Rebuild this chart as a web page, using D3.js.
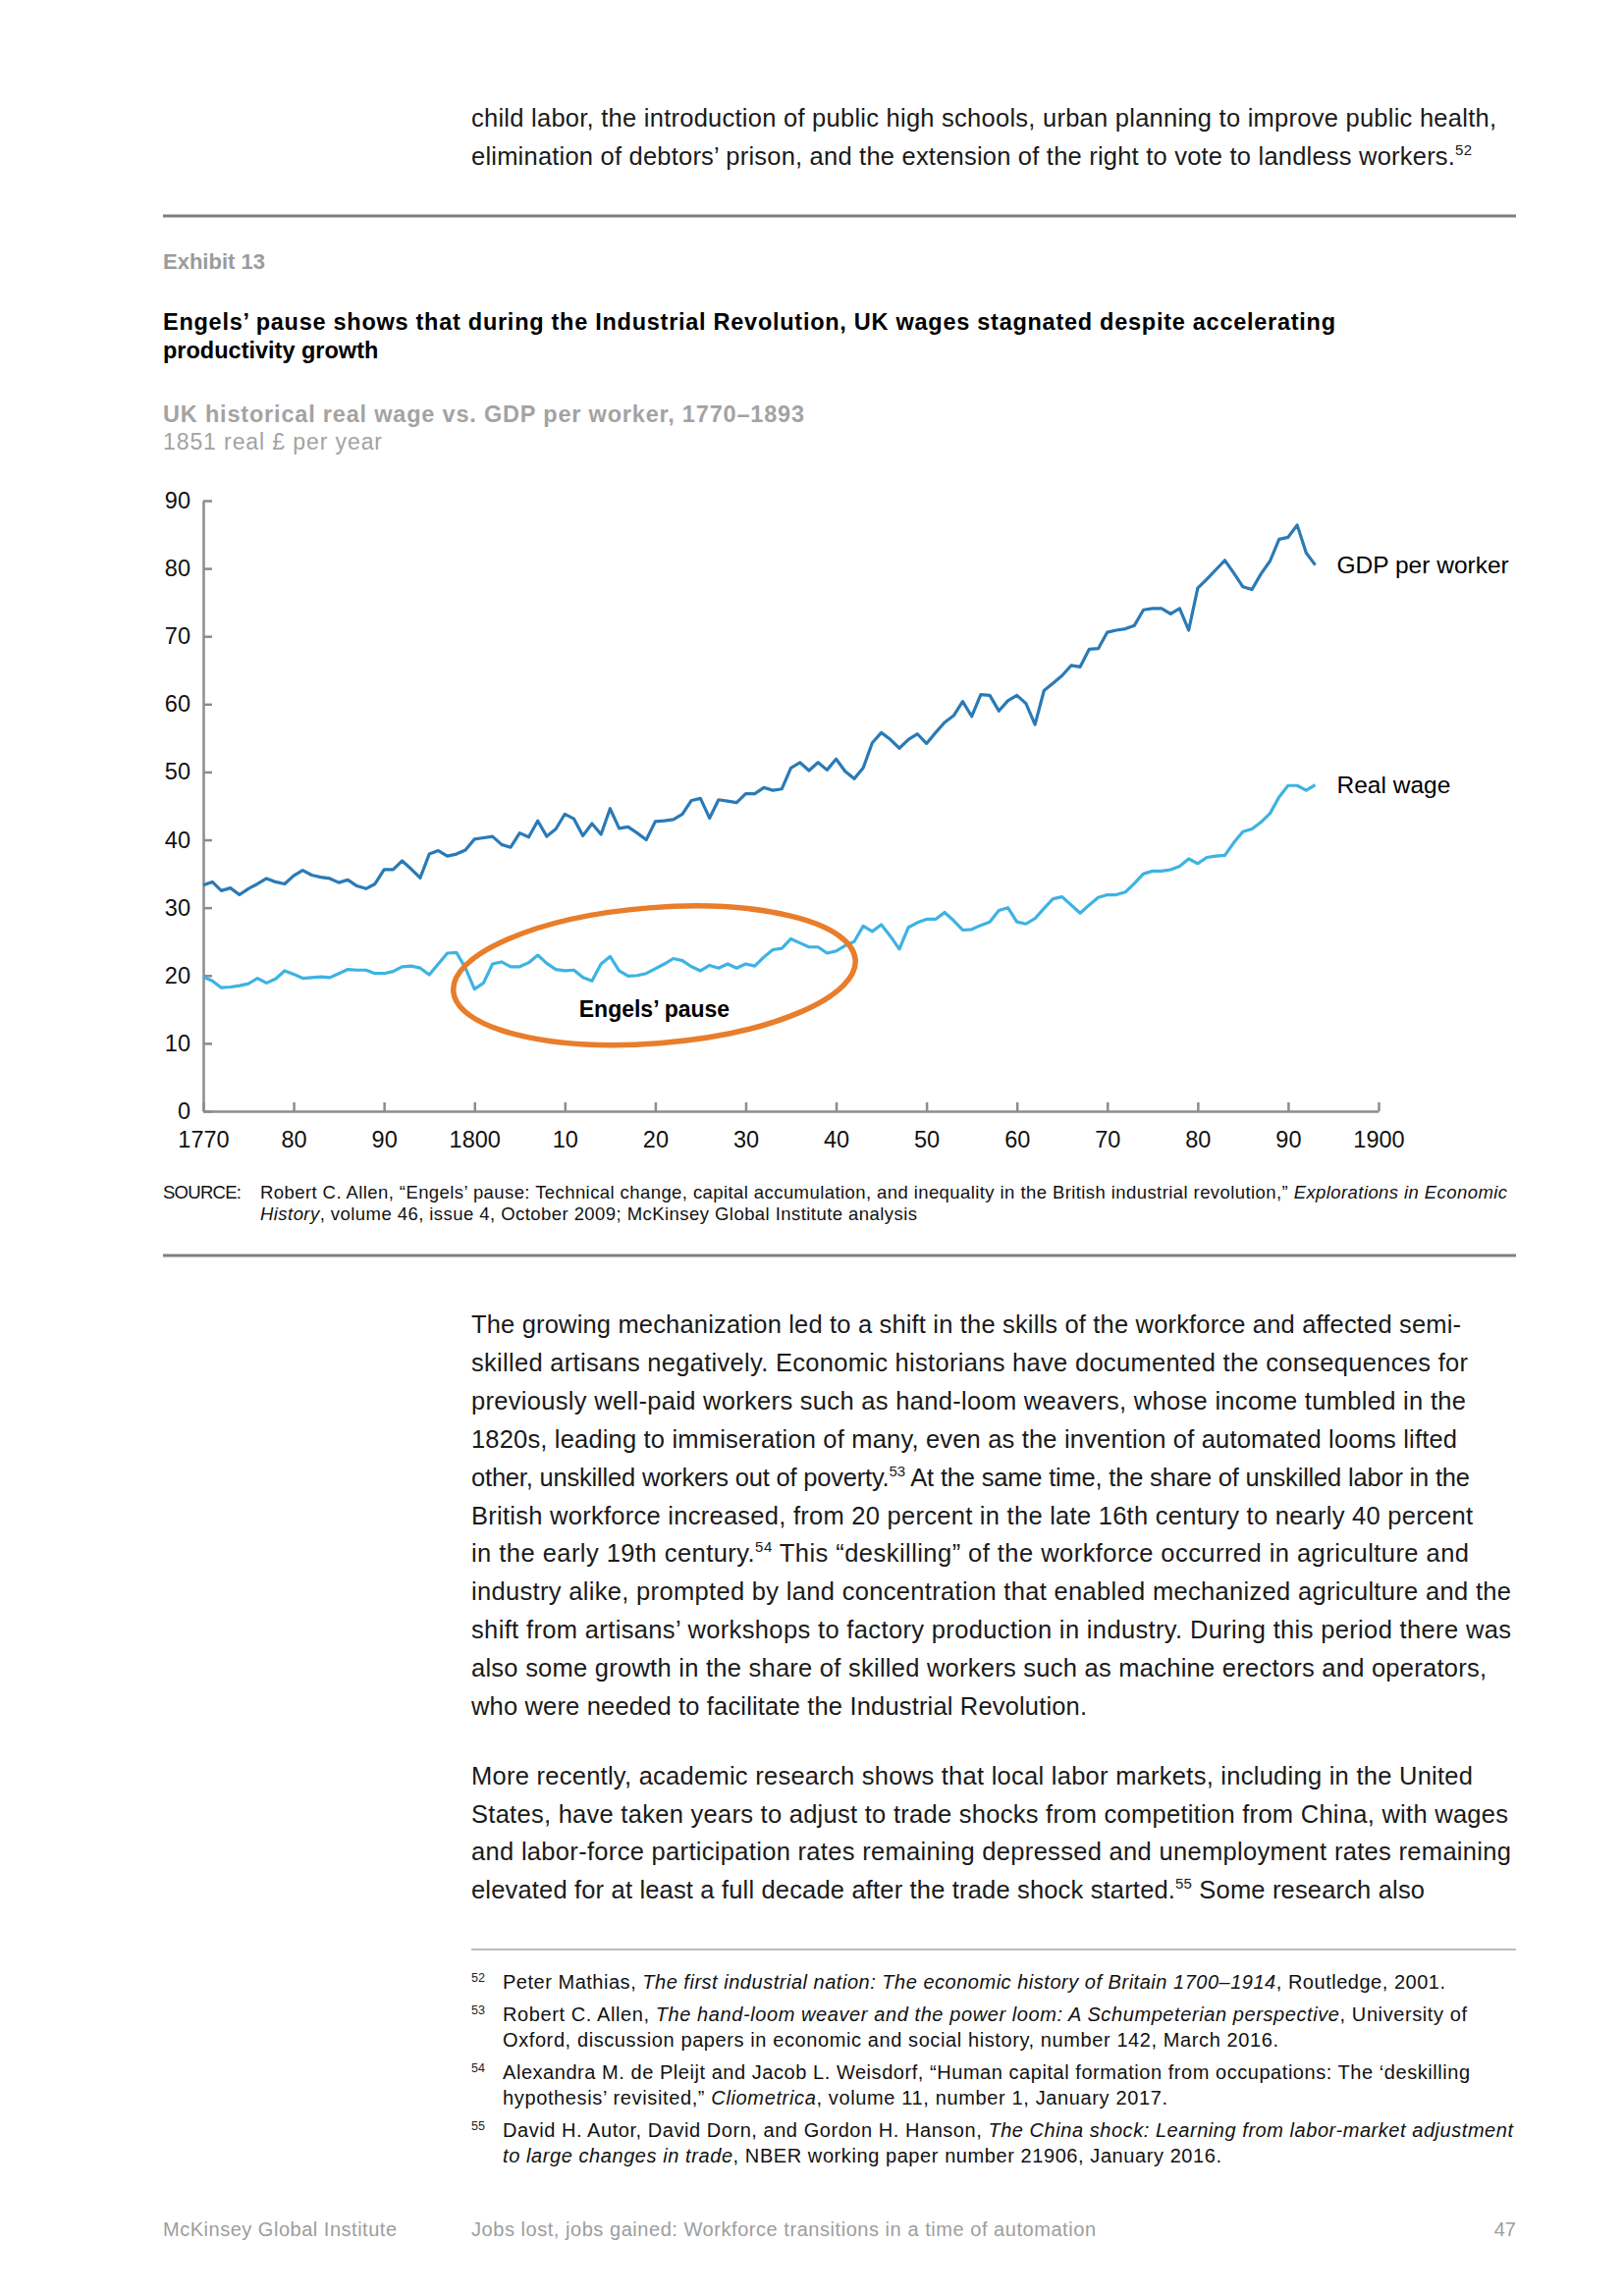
<!DOCTYPE html>
<html>
<head>
<meta charset="utf-8">
<script src="https://cdn.jsdelivr.net/npm/d3@7"></script>
<style>
  html, body { margin: 0; padding: 0; background: #fff; }
  svg { display: block; }
  text { font-family: "Liberation Sans", Arial, Helvetica, sans-serif; }
</style>
</head>
<body>
<script>
// ---------------- DATA ----------------
const firstYear = 1770;
const lastYear = 1893;
const years = d3.range(firstYear, lastYear + 1);

const gdpPerWorker = [
  33.3, 33.8, 32.5, 32.9, 31.9, 32.8, 33.5, 34.3, 33.8, 33.5, // 1770-1779
  34.7, 35.5, 34.8, 34.5, 34.3, 33.7, 34.1, 33.2, 32.8, 33.5, // 1780-1789
  35.6, 35.6, 36.9, 35.7, 34.4, 37.9, 38.4, 37.6, 37.9, 38.5, // 1790-1799
  40.1, 40.3, 40.5, 39.3, 38.9, 41.0, 40.4, 42.8, 40.5, 41.6, // 1800-1809
  43.8, 43.1, 40.6, 42.4, 40.8, 44.6, 41.7, 41.9, 41.0, 40.0, // 1810-1819
  42.7, 42.8, 43.0, 43.8, 45.8, 46.1, 43.2, 45.9, 45.7, 45.5, // 1820-1829
  46.8, 46.8, 47.7, 47.3, 47.5, 50.6, 51.4, 50.2, 51.4, 50.3, // 1830-1839
  51.9, 50.1, 49.0, 50.6, 54.3, 55.8, 54.8, 53.5, 54.8, 55.6, // 1840-1849
  54.2, 55.8, 57.3, 58.3, 60.4, 58.2, 61.4, 61.3, 59.0, 60.5, // 1850-1859
  61.3, 60.1, 57.0, 62.0, 63.1, 64.2, 65.7, 65.5, 68.1, 68.2, // 1860-1869
  70.6, 70.9, 71.1, 71.6, 73.9, 74.1, 74.1, 73.3, 74.1, 70.9, // 1870-1879
  77.1, 78.4, 79.8, 81.2, 79.3, 77.3, 76.9, 79.2, 81.1, 84.3, // 1880-1889
  84.6, 86.4, 82.3, 80.5                                      // 1890-1893
];

const realWage = [
  19.8, 19.2, 18.2, 18.3, 18.5, 18.8, 19.6, 18.9, 19.5, 20.7, // 1770-1779
  20.2, 19.6, 19.7, 19.8, 19.7, 20.3, 20.9, 20.8, 20.8, 20.3, // 1780-1789
  20.3, 20.6, 21.3, 21.4, 21.1, 20.1, 21.7, 23.3, 23.4, 21.1, // 1790-1799
  18.0, 18.9, 21.7, 22.0, 21.3, 21.3, 21.9, 23.0, 21.8, 20.9, // 1800-1809
  20.7, 20.8, 19.7, 19.2, 21.7, 22.8, 20.7, 19.9, 20.0, 20.3, // 1810-1819
  21.0, 21.7, 22.5, 22.2, 21.3, 20.7, 21.5, 21.1, 21.7, 21.1, // 1820-1829
  21.7, 21.4, 22.7, 23.8, 24.0, 25.4, 24.8, 24.2, 24.2, 23.3, // 1830-1839
  23.6, 24.4, 25.0, 27.3, 26.5, 27.5, 25.8, 23.9, 27.1, 27.8, // 1840-1849
  28.3, 28.3, 29.3, 28.1, 26.7, 26.8, 27.4, 27.9, 29.6, 30.0, // 1850-1859
  27.9, 27.6, 28.4, 29.9, 31.3, 31.6, 30.4, 29.2, 30.4, 31.5, // 1860-1869
  31.9, 31.9, 32.3, 33.6, 35.0, 35.4, 35.4, 35.6, 36.1, 37.2, // 1870-1879
  36.5, 37.4, 37.6, 37.7, 39.6, 41.2, 41.6, 42.6, 43.9, 46.3, // 1880-1889
  48.0, 48.0, 47.3, 48.1                                      // 1890-1893
];

const seriesNames = ["GDP per worker", "Real wage"];
const yTickValues = [0, 10, 20, 30, 40, 50, 60, 70, 80, 90];
const xTickValues = [1770, 1780, 1790, 1800, 1810, 1820, 1830, 1840, 1850, 1860, 1870, 1880, 1890, 1900];
const xTickLabels = ["1770", "80", "90", "1800", "10", "20", "30", "40", "50", "60", "70", "80", "90", "1900"];

// Engels' pause annotation (in data units)
const pauseYears = [1797.6, 1842.2];
const pauseValues = [10, 30];
const pauseLabel = "Engels’ pause";

// ---------------- PAGE ----------------
const W = 1654, H = 2339;
const svg = d3.select("body").append("svg").attr("width", W).attr("height", H);
svg.append("rect").attr("width", W).attr("height", H).attr("fill", "#fff");

// helper: rich text line; segs = [[text, style]] style: '' | 'i' | 'sup' | 'b'
function richLine(x, y, segs, o) {
  o = o || {};
  const t = svg.append("text")
    .attr("x", x).attr("y", y)
    .attr("font-size", o.size || 25.5)
    .attr("fill", o.color || "#111")
    .attr("font-weight", o.weight || "normal");
  if (o.anchor) t.attr("text-anchor", o.anchor);
  let shift = 0;
  segs.forEach(s => {
    const str = typeof s === "string" ? s : s[0];
    const st = typeof s === "string" ? "" : (s[1] || "");
    const ts = t.append("tspan").text(str);
    if (st === "sup") {
      const sh = o.supShift || 10;
      ts.attr("dy", -sh).attr("font-size", o.supSize || 15);
      shift = sh;
    } else if (shift) {
      ts.attr("dy", shift);
      shift = 0;
    }
    if (st === "i") ts.attr("font-style", "italic");
    if (st === "b") ts.attr("font-weight", "bold");
  });
  if (o.width) {
    t.attr("textLength", o.width).attr("lengthAdjust", "spacing");
  }
  return t;
}

// ---- top paragraph ----
const bodyX = 480;
const bodyColor = "#1a1a1a";
richLine(bodyX, 129, ["child labor, the introduction of public high schools, urban planning to improve public health,"], {width: 1044, color: bodyColor});
richLine(bodyX, 168, ["elimination of debtors’ prison, and the extension of the right to vote to landless workers.", ["52", "sup"]], {width: 1019, color: bodyColor});

// rules
svg.append("line").attr("x1", 166).attr("x2", 1544).attr("y1", 220).attr("y2", 220)
  .attr("stroke", "#7f7f7f").attr("stroke-width", 3);
svg.append("line").attr("x1", 166).attr("x2", 1544).attr("y1", 1279).attr("y2", 1279)
  .attr("stroke", "#7f7f7f").attr("stroke-width", 3);

// exhibit header
richLine(166, 274, ["Exhibit 13"], {size: 22, weight: "bold", color: "#9b9b9b"});
richLine(166, 336, ["Engels’ pause shows that during the Industrial Revolution, UK wages stagnated despite accelerating"], {size: 23.5, weight: "bold", color: "#000", width: 1194});
richLine(166, 365, ["productivity growth"], {size: 23.5, weight: "bold", color: "#000"});
richLine(166, 430, ["UK historical real wage vs. GDP per worker, 1770–1893"], {size: 23.5, weight: "bold", color: "#a3a3a3", width: 653});
richLine(166, 458, ["1851 real £ per year"], {size: 23, color: "#a3a3a3", width: 223});

// ---------------- CHART ----------------
const x = d3.scaleLinear().domain([1770, 1900]).range([207, 1404]);
const y = d3.scaleLinear().domain([0, 90]).range([1132, 510]);
const axisColor = "#8c8c8c";

const gx = svg.append("g").attr("transform", `translate(0,${y(0)})`)
  .call(d3.axisBottom(x).tickValues(xTickValues)
    .tickFormat((d, i) => xTickLabels[i])
    .tickSizeInner(-9).tickSizeOuter(0).tickPadding(20));
const gy = svg.append("g").attr("transform", `translate(${x(1770)},0)`)
  .call(d3.axisLeft(y).tickValues(yTickValues)
    .tickSizeInner(-9).tickSizeOuter(0).tickPadding(13));
[gx, gy].forEach(g => {
  g.select(".domain").attr("stroke", axisColor).attr("stroke-width", 2.5);
  g.selectAll(".tick line").attr("stroke", axisColor).attr("stroke-width", 2.5);
  g.selectAll(".tick text").attr("fill", "#111").attr("font-size", 23.5)
    .attr("font-family", "'Liberation Sans', Arial, sans-serif");
});

const line = d3.line().x((d, i) => x(years[i])).y(d => y(d));
svg.append("path").datum(realWage).attr("d", line)
  .attr("fill", "none").attr("stroke", "#3db3e2").attr("stroke-width", 3.2)
  .attr("stroke-linejoin", "round");
svg.append("path").datum(gdpPerWorker).attr("d", line)
  .attr("fill", "none").attr("stroke", "#2a7ab6").attr("stroke-width", 3.2)
  .attr("stroke-linejoin", "round");

// series labels
svg.append("text").attr("x", x(lastYear) + 22).attr("y", y(gdpPerWorker[gdpPerWorker.length - 1]) + 8)
  .attr("font-size", 24.5).attr("fill", "#000").text(seriesNames[0]);
svg.append("text").attr("x", x(lastYear) + 22).attr("y", y(realWage[realWage.length - 1]) + 8)
  .attr("font-size", 24.5).attr("fill", "#000").text(seriesNames[1]);

// Engels' pause ellipse
const ecx = (x(pauseYears[0]) + x(pauseYears[1])) / 2;
const ecy = (y(pauseValues[0]) + y(pauseValues[1])) / 2;
const erx = (x(pauseYears[1]) - x(pauseYears[0])) / 2;
const ery = (y(pauseValues[0]) - y(pauseValues[1])) / 2;
svg.append("ellipse").attr("cx", ecx).attr("cy", ecy).attr("rx", erx).attr("ry", ery)
  .attr("transform", `rotate(-4.5 ${ecx} ${ecy})`)
  .attr("fill", "none").attr("stroke", "#e87d2c").attr("stroke-width", 5.5);
svg.append("text").attr("x", ecx).attr("y", y(15) + 8).attr("text-anchor", "middle")
  .attr("font-size", 23).attr("font-weight", "bold").attr("fill", "#000").text(pauseLabel);

// ---------------- SOURCE ----------------
richLine(166, 1221, ["SOURCE:"], {size: 18.5, color: "#111", width: 80});
richLine(265, 1221, ["Robert C. Allen, “Engels’ pause: Technical change, capital accumulation, and inequality in the British industrial revolution,” ", ["Explorations in Economic", "i"]], {size: 18.5, color: "#111", width: 1270});
richLine(265, 1243, [["History", "i"], ", volume 46, issue 4, October 2009; McKinsey Global Institute analysis"], {size: 18.5, color: "#111", width: 669});

// ---------------- BODY ----------------
const para1 = [
  [["The growing mechanization led to a shift in the skills of the workforce and affected semi-"], 1488],
  [["skilled artisans negatively. Economic historians have documented the consequences for"], 1495],
  [["previously well-paid workers such as hand-loom weavers, whose income tumbled in the"], 1493],
  [["1820s, leading to immiseration of many, even as the invention of automated looms lifted"], 1484],
  [["other, unskilled workers out of poverty.", ["53", "sup"], " At the same time, the share of unskilled labor in the"], 1497],
  [["British workforce increased, from 20 percent in the late 16th century to nearly 40 percent"], 1500],
  [["in the early 19th century.", ["54", "sup"], " This “deskilling” of the workforce occurred in agriculture and"], 1496],
  [["industry alike, prompted by land concentration that enabled mechanized agriculture and the"], 1539],
  [["shift from artisans’ workshops to factory production in industry. During this period there was"], 1539],
  [["also some growth in the share of skilled workers such as machine erectors and operators,"], 1514],
  [["who were needed to facilitate the Industrial Revolution."], 1107]
];
para1.forEach((l, i) => richLine(bodyX, 1358 + i * 38.9, l[0], {width: l[1] - bodyX, color: bodyColor}));

const para2 = [
  [["More recently, academic research shows that local labor markets, including in the United"], 1500],
  [["States, have taken years to adjust to trade shocks from competition from China, with wages"], 1536],
  [["and labor-force participation rates remaining depressed and unemployment rates remaining"], 1539],
  [["elevated for at least a full decade after the trade shock started.", ["55", "sup"], " Some research also"], 1451]
];
para2.forEach((l, i) => richLine(bodyX, 1818 + i * 38.5, l[0], {width: l[1] - bodyX, color: bodyColor}));

// ---------------- FOOTNOTES ----------------
svg.append("line").attr("x1", 480).attr("x2", 1544).attr("y1", 1986).attr("y2", 1986)
  .attr("stroke", "#a6a6a6").attr("stroke-width", 1.5);

const fnX = 512;
const footnotes = [
  ["52", 2026, [["Peter Mathias, ", ["The first industrial nation: The economic history of Britain 1700–1914", "i"], ", Routledge, 2001."], 1472]],
  ["53", 2059, [["Robert C. Allen, ", ["The hand-loom weaver and the power loom: A Schumpeterian perspective", "i"], ", University of"], 1494],
               [["Oxford, discussion papers in economic and social history, number 142, March 2016."], 1302]],
  ["54", 2118, [["Alexandra M. de Pleijt and Jacob L. Weisdorf, “Human capital formation from occupations: The ‘deskilling"], 1497],
               [["hypothesis’ revisited,” ", ["Cliometrica", "i"], ", volume 11, number 1, January 2017."], 1189]],
  ["55", 2177, [["David H. Autor, David Dorn, and Gordon H. Hanson, ", ["The China shock: Learning from labor-market adjustment", "i"]], 1541],
               [[["to large changes in trade", "i"], ", NBER working paper number 21906, January 2016."], 1244]]
];
footnotes.forEach(fn => {
  const [num, y0, ...lines] = fn;
  richLine(480, y0 - 7, [num], {size: 12.5, color: "#222"});
  lines.forEach((l, i) => richLine(fnX, y0 + i * 26, l[0], {size: 20, color: "#111", width: l[1] - fnX}));
});

// ---------------- FOOTER ----------------
richLine(166, 2278, ["McKinsey Global Institute"], {size: 20, color: "#9d9d9d", width: 238});
richLine(480, 2278, ["Jobs lost, jobs gained: Workforce transitions in a time of automation"], {size: 20, color: "#9d9d9d", width: 636});
richLine(1544, 2278, ["47"], {size: 20, color: "#9d9d9d", anchor: "end"});
</script>
</body>
</html>
